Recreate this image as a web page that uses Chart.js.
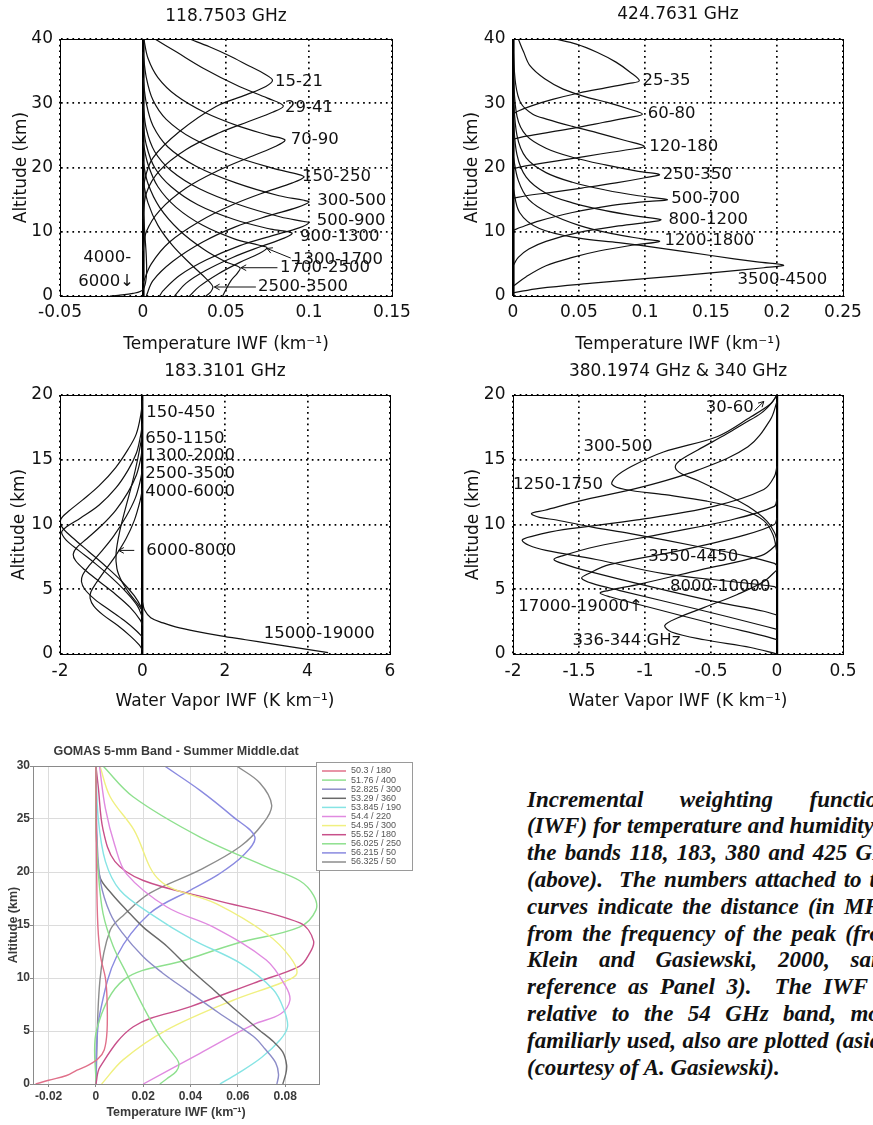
<!DOCTYPE html>
<html><head><meta charset="utf-8">
<script src="https://cdn.jsdelivr.net/npm/chart.js@4/dist/chart.umd.min.js"></script>
<style>
html,body{margin:0;padding:0;background:#fff;overflow:hidden;width:873px;height:1125px;position:relative;}
canvas{position:absolute;display:block;}
#c5{filter:blur(0.55px);}
#caption{position:absolute;left:527px;top:786.6px;width:372px;font:italic bold 23px "Liberation Serif","Times New Roman",serif;line-height:26.8px;color:#111;}
#caption div{white-space:nowrap;text-align:justify;text-align-last:justify;}
#caption div.short{width:341px;}
#caption div.last{text-align-last:left;}
</style></head><body>
<canvas id="c1" width="436" height="358" style="left:0;top:0"></canvas>
<canvas id="c2" width="437" height="358" style="left:436px;top:0"></canvas>
<canvas id="c3" width="436" height="360" style="left:0;top:358px"></canvas>
<canvas id="c4" width="437" height="360" style="left:436px;top:358px"></canvas>
<canvas id="c5" width="420" height="390" style="left:0;top:735px"></canvas>
<div id="caption">
<div>Incremental weighting functions</div>
<div>(IWF) for temperature and humidity in</div>
<div>the bands 118, 183, 380 and 425 GHz</div>
<div>(above).&nbsp; The numbers attached to the</div>
<div>curves indicate the distance (in MHz)</div>
<div>from the frequency of the peak (from</div>
<div>Klein and Gasiewski, 2000, same</div>
<div class="short">reference as Panel 3).&nbsp; The IWF</div>
<div>relative to the 54 GHz band, more</div>
<div>familiarly used, also are plotted (aside)</div>
<div class="last">(courtesy of A. Gasiewski).</div>
</div>
<script>
// ---------- Panel 1: 118.7503 GHz temperature IWF  [value, altitude km] ----------
const P1_XTICKS = [-0.05, 0, 0.05, 0.1, 0.15];
const P1_YTICKS = [0, 10, 20, 30, 40];
const P1_15_21 = [[0.028,40],[0.04,38.8],[0.052,37.4],[0.064,35.8],[0.073,34.6],[0.078,33.6],[0.074,32.6],[0.062,31.3],[0.044,29.5],[0.022,25.6],[0.006,21.5],[0.001,18],[0,14]];
const P1_29_41 = [[0.0072,40],[0.02,38],[0.036,35.5],[0.058,32.6],[0.075,30.8],[0.0845,29.6],[0.078,28.6],[0.064,27.2],[0.046,25.4],[0.026,22.8],[0.01,19.5],[0.002,16],[0,12]];
const P1_70_90 = [[0.0005,40],[0.003,37],[0.009,34],[0.02,31.2],[0.037,28.6],[0.058,26.4],[0.076,25],[0.0855,24.3],[0.08,23.3],[0.066,21.8],[0.046,19.6],[0.026,16.8],[0.01,13.3],[0.002,10],[0,7]];
const P1_150_250 = [[0,38],[0.002,34],[0.006,30.5],[0.014,27.5],[0.03,24.5],[0.053,21.9],[0.078,19.9],[0.094,18.9],[0.097,18.5],[0.09,17.6],[0.074,16.2],[0.054,14.2],[0.034,11.6],[0.016,8.4],[0.005,5],[0,2]];
const P1_300_500 = [[0,34],[0.002,30],[0.006,26.5],[0.015,23.2],[0.032,20.2],[0.056,17.6],[0.082,15.6],[0.097,14.9],[0.1,14.6],[0.093,13.8],[0.076,12.5],[0.056,10.8],[0.036,8.4],[0.018,5.4],[0.006,2.4],[0.002,0]];
const P1_500_900 = [[0,30],[0.002,26],[0.007,22.5],[0.017,19.5],[0.034,16.7],[0.058,14.2],[0.083,12.3],[0.097,11.6],[0.1,11.4],[0.094,10.6],[0.078,9.4],[0.058,7.8],[0.038,5.6],[0.022,3.2],[0.012,0.8],[0.01,0]];
const P1_900_1300 = [[0,27],[0.002,23.5],[0.007,20],[0.017,17],[0.033,14.2],[0.055,11.9],[0.077,10.4],[0.0897,9.8],[0.085,9],[0.071,7.7],[0.054,6],[0.038,4],[0.026,2],[0.019,0]];
const P1_1300_1700 = [[0,24],[0.003,20.5],[0.009,17],[0.02,13.8],[0.036,11],[0.055,8.9],[0.07,7.9],[0.0747,7.5],[0.07,6.6],[0.058,5.2],[0.045,3.4],[0.034,1.5],[0.028,0]];
const P1_1700_2500 = [[0,21],[0.003,17.5],[0.01,13.8],[0.022,10.2],[0.037,7.2],[0.05,5.3],[0.0584,4.4],[0.057,3.6],[0.053,2.4],[0.05,1],[0.048,0]];
const P1_2500_3500 = [[0,18],[0.003,14.5],[0.009,11],[0.018,7.8],[0.029,4.9],[0.038,2.7],[0.042,1.5],[0.041,0.7],[0.038,0]];
const P1_4000_6000 = [[0,14],[0.001,10],[0.002,6],[0.002,3],[0,1],[-0.006,0.4],[-0.015,0.1],[-0.02,0]];
const P1_LABEL_TEXT = ['15-21','29-41','70-90','150-250','300-500','500-900','900-1300','1300-1700','1700-2500','2500-3500','4000-','6000\u2193'];
const P1_LABEL_X = [0.0795,0.0855,0.089,0.0958,0.105,0.1046,0.0946,0.0904,0.0825,0.0693,-0.036,-0.039];
const P1_LABEL_Y = [33.4,29.3,24.3,18.5,14.9,11.7,9.2,5.6,4.4,1.45,5.9,2.2];
const P1_ARROWS = [[0.089,5.9,0.0747,7.4],[0.081,4.4,0.059,4.4],[0.068,1.4,0.043,1.4]];

// ---------- Panel 2: 424.7631 GHz temperature IWF ----------
const P2_XTICKS = [0, 0.05, 0.1, 0.15, 0.2, 0.25];
const P2_YTICKS = [0, 10, 20, 30, 40];
const P2_25_35 = [[0.032,40],[0.048,39.2],[0.064,37.9],[0.078,36.4],[0.089,34.8],[0.0957,33.5],[0.088,33.1],[0.07,32.4],[0.05,31.6],[0.03,30.6],[0.014,29.6],[0.004,28.8],[0,28.3]];
const P2_60_80 = [[0.004,40],[0.008,38],[0.013,35.8],[0.024,33.8],[0.038,32.2],[0.055,31],[0.072,30.1],[0.088,29.1],[0.098,28.3],[0.088,27.8],[0.068,27],[0.045,26.1],[0.025,25.4],[0.008,24.8],[0,24.4]];
const P2_120_180 = [[0,39],[0.002,33],[0.006,30],[0.015,28.3],[0.026,27.5],[0.045,26.4],[0.064,25.4],[0.085,24.2],[0.0995,23.3],[0.088,22.8],[0.066,22.1],[0.042,21.3],[0.02,20.6],[0.006,20.1],[0,19.8]];
const P2_250_350 = [[0,35],[0.003,28],[0.01,25],[0.025,23],[0.045,21.6],[0.07,20.4],[0.095,19.4],[0.111,18.9],[0.1,18.4],[0.078,17.6],[0.052,16.8],[0.028,16.1],[0.01,15.6],[0,15.2]];
const P2_500_700 = [[0,32],[0.003,25],[0.01,21.5],[0.025,19.2],[0.045,17.7],[0.07,16.5],[0.095,15.6],[0.117,15],[0.1,14.7],[0.075,14.1],[0.045,13],[0.02,11.7],[0.006,10.7],[0,10.2]];
const P2_800_1200 = [[0,28],[0.003,22],[0.01,18.5],[0.025,16],[0.045,14.5],[0.07,13.3],[0.095,12.4],[0.112,11.9],[0.11,11.7],[0.08,10.9],[0.05,9.9],[0.025,8.5],[0.012,7.3],[0.004,6],[0,4.7]];
const P2_1200_1800 = [[0,22],[0.004,18],[0.012,15],[0.028,12.8],[0.05,11],[0.075,9.7],[0.098,8.9],[0.111,8.5],[0.09,7.9],[0.065,7],[0.045,6],[0.025,4.7],[0.01,3],[0,1.5]];
const P2_3500_4500 = [[0,17],[0.005,13],[0.02,10.5],[0.05,9],[0.08,8.3],[0.11,7.5],[0.15,6.3],[0.185,5.3],[0.205,4.8],[0.19,4.4],[0.15,3.6],[0.1,2.7],[0.06,2],[0.02,1.2],[0,0.5]];
const P2_LABEL_TEXT = ['25-35','60-80','120-180','250-350','500-700','800-1200','1200-1800','3500-4500'];
const P2_LABEL_X = [0.0982,0.102,0.1033,0.1135,0.1198,0.1178,0.1147,0.170];
const P2_LABEL_Y = [33.5,28.3,23.3,18.9,15.1,11.9,8.6,2.5];

// ---------- Panel 3: 183.3101 GHz water vapour IWF ----------
const P3_XTICKS = [-2, 0, 2, 4, 6];
const P3_YTICKS = [0, 5, 10, 15, 20];
const P3_150_450 = [[0,19.6],[-0.04,18.5],[-0.15,17],[-0.35,15.8],[-0.65,14.4],[-1.05,13],[-1.45,11.9],[-1.8,11],[-1.98,10.4],[-1.95,9.8],[-1.7,9.0],[-1.3,7.9],[-0.9,6.8],[-0.5,5.6],[-0.2,4.5],[-0.03,3.6],[0,3.2]];
const P3_650_1150 = [[0,17.8],[-0.05,16.8],[-0.15,15.5],[-0.35,14.2],[-0.65,12.8],[-1.05,11.5],[-1.5,10.5],[-1.85,9.8],[-1.96,9.4],[-1.85,8.8],[-1.55,8.0],[-1.15,7.0],[-0.75,5.9],[-0.4,4.8],[-0.12,3.7],[0,2.8]];
const P3_1300_2000 = [[0,16],[-0.05,15],[-0.15,13.8],[-0.35,12.5],[-0.65,11.1],[-1.0,9.9],[-1.35,8.9],[-1.6,8.2],[-1.68,7.7],[-1.62,7.2],[-1.4,6.5],[-1.05,5.6],[-0.65,4.6],[-0.3,3.6],[-0.05,2.6],[0,2.2]];
const P3_2500_3500 = [[0,14.3],[-0.06,13.3],[-0.18,12],[-0.4,10.6],[-0.7,9.1],[-1.0,7.9],[-1.3,6.8],[-1.45,6.1],[-1.48,5.6],[-1.4,5.0],[-1.15,4.2],[-0.8,3.4],[-0.45,2.6],[-0.15,1.8],[0,1.3]];
const P3_4000_6000 = [[0,12.8],[-0.06,11.8],[-0.2,10.3],[-0.4,8.9],[-0.65,7.6],[-0.9,6.5],[-1.12,5.5],[-1.25,4.8],[-1.27,4.3],[-1.18,3.7],[-0.95,3.0],[-0.6,2.2],[-0.3,1.4],[-0.08,0.7],[0,0.3]];
const P3_6000_8000 = [[0,17],[-0.12,15],[-0.25,13.2],[-0.4,11.4],[-0.55,9.5],[-0.64,7.8],[-0.62,6.6],[-0.5,5.6],[-0.3,4.6],[-0.1,3.8],[0,3.3]];
const P3_15000_19000 = [[0,4],[0.05,3.4],[0.2,2.8],[0.5,2.4],[0.8,2.1],[1.3,1.75],[1.9,1.4],[2.5,1.1],[3.1,0.8],[3.8,0.45],[4.5,0.1]];
const P3_LABEL_TEXT = ['150-450','650-1150','1300-2000','2500-3500','4000-6000','6000-8000','15000-19000'];
const P3_LABEL_X = [0.09,0.065,0.065,0.065,0.065,0.09,2.94];
const P3_LABEL_Y = [18.6,16.6,15.3,13.9,12.5,8.0,1.6];
const P3_ARROWS = [[-0.2,8.0,-0.58,8.0]];

// ---------- Panel 4: 380.1974 GHz & 340 GHz water vapour IWF ----------
const P4_XTICKS = [-2, -1.5, -1, -0.5, 0, 0.5];
const P4_YTICKS = [0, 5, 10, 15, 20];
const P4_A = [[0,20],[-0.04,19.4],[-0.12,18.6],[-0.25,17.8],[-0.38,17.0],[-0.6,15.75],[-0.74,14.9],[-0.77,14.4],[-0.72,13.9],[-0.6,13.4],[-0.4,12.4],[-0.22,11.4],[-0.08,10.3],[-0.02,9.4],[0,8.8]];
const P4_B = [[0,20],[-0.05,19.3],[-0.2,18.3],[-0.45,16.8],[-0.86,15.6],[-1.1,14.5],[-1.22,13.7],[-1.25,13.1],[-1.15,12.7],[-0.85,12.3],[-0.53,11.8],[-0.25,11.1],[-0.1,10.3],[-0.03,9.2],[0,7.8]];
const P4_C = [[0,19.5],[-0.05,18.1],[-0.22,16],[-0.6,14.2],[-1.02,12.9],[-1.5,11.8],[-1.76,11.1],[-1.86,10.85],[-1.8,10.55],[-1.67,10.35],[-1.4,9.8],[-1.11,9.3],[-0.6,8.3],[-0.25,7.6],[-0.02,7.0],[0,6.8]];
const P4_D = [[0,14.5],[-0.02,13.7],[-0.1,12.7],[-0.48,11.4],[-1.06,10.35],[-1.62,9.6],[-1.85,9.1],[-1.93,8.8],[-1.88,8.4],[-1.75,8.0],[-1.37,7.3],[-0.86,6.2],[-0.35,5.6],[-0.02,5.2],[0,5.0]];
const P4_E = [[0,12],[-0.02,11.4],[-0.35,10.35],[-0.86,9.3],[-1.37,8.3],[-1.62,7.6],[-1.69,7.3],[-1.6,6.9],[-1.47,6.5],[-0.96,5.2],[-0.45,4.0],[-0.1,3.3],[0,3.0]];
const P4_F = [[0,10.5],[-0.02,10],[-0.24,9.2],[-0.73,8.0],[-1.27,6.9],[-1.43,6.2],[-1.48,5.85],[-1.4,5.45],[-1.19,4.9],[-0.58,3.4],[-0.15,2.3],[0,1.9]];
const P4_G = [[0,8.8],[-0.02,8.3],[-0.12,7.6],[-0.58,6.5],[-1.04,5.4],[-1.28,4.9],[-1.34,4.7],[-1.26,4.4],[-1.04,3.8],[-0.43,2.2],[-0.1,1.4],[0,1.1]];
const P4_H = [[0,6.5],[-0.1,5.6],[-0.3,4.6],[-0.55,3.6],[-0.75,2.8],[-0.85,2.2],[-0.8,1.7],[-0.55,1.1],[-0.2,0.5],[0,0]];
const P4_LABEL_TEXT = ['30-60','300-500','1250-1750','3550-4450','8000-10000','17000-19000\u2191','336-344 GHz'];
const P4_LABEL_X = [-0.54,-1.466,-2.0,-0.975,-0.81,-1.96,-1.55];
const P4_LABEL_Y = [19.05,16.0,13.05,7.5,5.2,3.65,1.0];
const P4_ARROWS = [[-0.17,18.8,-0.1,19.5]];

// ---------- Panel 5: GOMAS 5-mm band temperature IWF ----------
const P5_XTICKS = [-0.02, 0, 0.02, 0.04, 0.06, 0.08];
const P5_YTICKS = [0, 5, 10, 15, 20, 25, 30];
const P5_NAMES = ['50.3 / 180','51.76 / 400','52.825 / 300','53.29 / 360','53.845 / 190','54.4 / 220','54.95 / 300','55.52 / 180','56.025 / 250','56.215 / 50','56.325 / 50'];
const P5_COLORS = ['#e0708a','#8ee08e','#8c8cc8','#6a6a6a','#86e4e4','#e08ae0','#f0f080','#c8508a','#8ee08e','#8a8ae0','#8c8c8c'];
const P5_50_3 = [[0,30],[0.0003,20],[0.0008,15],[0.002,12],[0.004,10],[0.0047,8],[0.0047,5],[0.0035,3.2],[0.001,2.4],[-0.003,1.8],[-0.008,1.3],[-0.0124,0.8],[-0.02,0.35],[-0.0255,0]];
const P5_51_76 = [[0,30],[0,25],[0.001,20],[0.003,16.1],[0.0073,13],[0.013,10.4],[0.02,7.3],[0.027,4.5],[0.032,3],[0.035,2],[0.034,1.2],[0.03,0.5],[0.027,0]];
const P5_52_825 = [[0,30],[0.0005,23],[0.002,19],[0.006,16.1],[0.011,14.3],[0.02,12],[0.028,10.5],[0.038,8.9],[0.052,6.7],[0.0665,4.5],[0.0715,3.3],[0.076,2],[0.0772,0.9],[0.0765,0]];
const P5_53_29 = [[0,30],[0.0003,23],[0.0017,19.5],[0.0065,18],[0.013,16.4],[0.02,14.8],[0.03,13],[0.04,10.8],[0.0497,8.9],[0.059,7],[0.069,5.1],[0.075,4],[0.079,3],[0.0806,1.8],[0.0803,1],[0.079,0]];
const P5_53_845 = [[0,30],[0.001,25],[0.004,21],[0.0101,18.3],[0.0228,16.1],[0.041,13.6],[0.061,11.4],[0.075,8.9],[0.0795,7],[0.081,5.4],[0.078,4.2],[0.07,2.5],[0.06,1],[0.0524,0]];
const P5_54_4 = [[0.0015,30],[0.004,26],[0.008,22.5],[0.013,19.8],[0.03,16.7],[0.0497,14.8],[0.072,11.7],[0.08,9.3],[0.082,7.9],[0.078,6.6],[0.0665,5.6],[0.044,2.9],[0.02,0]];
const P5_54_95 = [[0.0017,30],[0.006,27.1],[0.016,24],[0.027,19.2],[0.051,17],[0.072,14.2],[0.082,12],[0.0849,10.4],[0.079,9.6],[0.058,7.9],[0.03,5.1],[0.0116,2.3],[0.0024,0]];
const P5_55_52 = [[0,30],[0.001,28],[0.003,24],[0.008,21],[0.02,19.2],[0.0497,17.4],[0.0862,15.2],[0.092,13.5],[0.09,12.2],[0.086,11.1],[0.0665,9.5],[0.04,7.3],[0.0158,5.4],[0.0017,1.6],[0,0]];
const P5_56_025 = [[0.003,30],[0.0157,27.1],[0.044,23.3],[0.072,20.5],[0.086,19.2],[0.092,17.8],[0.093,16.4],[0.086,14.8],[0.06,13.3],[0.038,11.7],[0.0116,9.8],[0.0003,5.1],[0,0]];
const P5_56_215 = [[0.029,30],[0.044,27.7],[0.058,25.2],[0.0672,23.3],[0.062,21.5],[0.052,19.8],[0.04,18.3],[0.0228,16.1],[0.0087,12],[0.0017,6.7],[0.0003,3.5],[0,0]];
const P5_56_325 = [[0.0595,30],[0.0693,28.4],[0.0743,26.3],[0.0707,24.6],[0.061,22.4],[0.044,20.2],[0.0228,18],[0.012,16],[0.006,14.5],[0.0017,9.8],[0,0]];

// ---------------- drawing helpers ----------------
const DV = '"DejaVu Sans", Verdana, sans-serif';
const AR = '"Liberation Sans", Arial, sans-serif';

const boxPlugin = {
  id: 'box',
  afterDatasetsDraw(chart, args, opts) {
    const a = chart.chartArea, c = chart.ctx;
    c.save();
    c.strokeStyle = opts.color || '#000';
    c.lineWidth = 1;
    c.strokeRect(Math.round(a.left) + 0.5, Math.round(a.top) + 0.5, Math.round(a.right - a.left), Math.round(a.bottom - a.top));
    c.restore();
  }
};

function labelPlugin(texts, xs, ys, arrows, font) {
  return {
    id: 'curveLabels',
    afterDatasetsDraw(chart) {
      const sx = chart.scales.x, sy = chart.scales.y, c = chart.ctx;
      c.save();
      c.font = font; c.fillStyle = '#111'; c.textAlign = 'left'; c.textBaseline = 'middle';
      texts.forEach((t, i) => c.fillText(t, sx.getPixelForValue(xs[i]), sy.getPixelForValue(ys[i])));
      c.strokeStyle = '#111'; c.lineWidth = 1;
      (arrows || []).forEach(a => {
        const x1 = sx.getPixelForValue(a[0]), y1 = sy.getPixelForValue(a[1]);
        const x2 = sx.getPixelForValue(a[2]), y2 = sy.getPixelForValue(a[3]);
        const ang = Math.atan2(y2 - y1, x2 - x1);
        c.beginPath(); c.moveTo(x1, y1); c.lineTo(x2, y2);
        c.moveTo(x2 - 6 * Math.cos(ang - 0.5), y2 - 6 * Math.sin(ang - 0.5)); c.lineTo(x2, y2);
        c.lineTo(x2 - 6 * Math.cos(ang + 0.5), y2 - 6 * Math.sin(ang + 0.5));
        c.stroke();
      });
      c.restore();
    }
  };
}

function legendPlugin(names, colors) {
  return {
    id: 'sideLegend',
    afterDraw(chart) {
      const c = chart.ctx;
      c.save();
      c.fillStyle = '#fff'; c.fillRect(316, 27, 96, 108);
      c.strokeStyle = '#9a9a9a'; c.lineWidth = 1; c.strokeRect(316.5, 27.5, 96, 108);
      c.font = '9px ' + AR; c.textBaseline = 'middle'; c.textAlign = 'left';
      names.forEach((n, i) => {
        const y = 36 + i * 9.1;
        c.strokeStyle = colors[i]; c.lineWidth = 1.5;
        c.beginPath(); c.moveTo(322, y); c.lineTo(346, y); c.stroke();
        c.fillStyle = '#555'; c.fillText(n, 351, y);
      });
      c.restore();
    }
  };
}

function build(id, s) {
  const datasets = s.curves.map((pts, i) => ({
    data: pts.map(p => ({x: p[0], y: p[1]})),
    showLine: true,
    borderColor: s.colors ? s.colors[i] : '#111',
    borderWidth: s.lineWidth,
    pointRadius: 0,
    tension: s.tension,
    fill: false
  }));
  const zeroX = v => v === 0 && s.zeroWidth;
  const tickFont = {family: s.fontFamily, size: s.tickSize, weight: s.weight, lineHeight: 1.2};
  const titleFont = {family: s.fontFamily, size: s.titleSize, weight: s.weight, lineHeight: 1.2};
  return new Chart(document.getElementById(id), {
    type: 'scatter',
    data: {datasets},
    options: {
      responsive: false, animation: false, events: [],
      layout: {padding: {left: 0, top: 0, right: s.padR, bottom: 0}},
      plugins: {
        legend: {display: false}, tooltip: {enabled: false},
        title: {display: true, text: s.title, fullSize: false, color: s.titleColor || '#111',
                font: titleFont, padding: {top: s.tPadTop, bottom: s.tPadBottom}},
        box: {color: s.boxColor}
      },
      scales: {
        x: {
          type: 'linear', position: 'bottom', min: s.xMin, max: s.xMax,
          afterBuildTicks: sc => { sc.ticks = s.xTicks.map(v => ({value: v})); },
          afterFit: sc => { sc.height = s.xH; },
          ticks: {autoSkip: false, maxRotation: 0, minRotation: 0, padding: s.xTickPad, color: s.textColor, font: tickFont, callback: v => String(v)},
          grid: {
            color: s.gridColor,
            lineWidth: ctx => (ctx.tick && zeroX(ctx.tick.value)) ? s.zeroWidth : s.gridWidth,
            drawTicks: !!s.tickLen, tickLength: s.tickLen || 0, tickColor: s.tickColor || s.gridColor
          },
          border: {display: true, color: s.boxColor, width: 1,
                   dash: ctx => (ctx.tick && zeroX(ctx.tick.value)) ? [] : s.dash},
          title: {display: true, text: s.xTitle, color: s.textColor, font: titleFont, padding: {top: 0, bottom: s.xTitlePad}}
        },
        y: {
          type: 'linear', position: 'left', min: s.yMin, max: s.yMax,
          afterBuildTicks: sc => { sc.ticks = s.yTicks.map(v => ({value: v})); },
          afterFit: sc => { sc.width = s.yW; },
          ticks: {autoSkip: false, padding: s.yTickPad, color: s.textColor, font: tickFont, callback: v => String(v)},
          grid: {color: s.gridColor, lineWidth: s.gridWidth, drawTicks: !!s.tickLen, tickLength: s.tickLen || 0, tickColor: s.tickColor || s.gridColor},
          border: {display: true, color: s.boxColor, width: 1, dash: s.dash},
          title: {display: true, text: 'Altitude (km)', color: s.textColor, font: titleFont, padding: {top: s.yTitlePad, bottom: 0}}
        }
      }
    },
    plugins: [boxPlugin].concat(s.extraPlugins || [])
  });
}

const MATLAB = {fontFamily: DV, tickSize: 17, titleSize: 17, weight: 'normal', textColor: '#111',
  gridColor: '#000', gridWidth: 1.7, boxColor: '#000', dash: [1.7, 4], lineWidth: 1.2, tension: 0.35};

build('c1', Object.assign({}, MATLAB, {
  curves: [P1_15_21, P1_29_41, P1_70_90, P1_150_250, P1_300_500, P1_500_900, P1_900_1300, P1_1300_1700, P1_1700_2500, P1_2500_3500, P1_4000_6000],
  xMin: -0.05, xMax: 0.15, yMin: 0, yMax: 40, xTicks: P1_XTICKS, yTicks: P1_YTICKS,
  title: '118.7503 GHz', xTitle: 'Temperature IWF (km\u207B\u00B9)',
  yW: 60, xH: 62, padR: 44, tPadTop: 6.6, tPadBottom: 12, xTickPad: 6.3, yTickPad: 7, xTitlePad: 2.8, yTitlePad: 11.8,
  zeroWidth: 2.6,
  extraPlugins: [labelPlugin(P1_LABEL_TEXT, P1_LABEL_X, P1_LABEL_Y, P1_ARROWS, '16.5px ' + DV)]
}));

build('c2', Object.assign({}, MATLAB, {
  curves: [P2_25_35, P2_60_80, P2_120_180, P2_250_350, P2_500_700, P2_800_1200, P2_1200_1800, P2_3500_4500],
  xMin: 0, xMax: 0.25, yMin: 0, yMax: 40, xTicks: P2_XTICKS, yTicks: P2_YTICKS,
  title: '424.7631 GHz', xTitle: 'Temperature IWF (km\u207B\u00B9)',
  yW: 77, xH: 62, padR: 30, tPadTop: 4.8, tPadBottom: 13.8, xTickPad: 6.3, yTickPad: 7.5, xTitlePad: 2.8, yTitlePad: 26.8,
  zeroWidth: 2.6,
  extraPlugins: [labelPlugin(P2_LABEL_TEXT, P2_LABEL_X, P2_LABEL_Y, [], '16.5px ' + DV)]
}));

build('c3', Object.assign({}, MATLAB, {
  curves: [P3_150_450, P3_650_1150, P3_1300_2000, P3_2500_3500, P3_4000_6000, P3_6000_8000, P3_15000_19000],
  xMin: -2, xMax: 6, yMin: 0, yMax: 20, xTicks: P3_XTICKS, yTicks: P3_YTICKS,
  title: '183.3101 GHz', xTitle: 'Water Vapor IWF (K km\u207B\u00B9)',
  yW: 60, xH: 64, padR: 46, tPadTop: 3.5, tPadBottom: 13.1, xTickPad: 7.8, yTickPad: 7, xTitlePad: 5.8, yTitlePad: 9.8,
  zeroWidth: 2.4,
  extraPlugins: [labelPlugin(P3_LABEL_TEXT, P3_LABEL_X, P3_LABEL_Y, P3_ARROWS, '16.5px ' + DV)]
}));

build('c4', Object.assign({}, MATLAB, {
  curves: [P4_A, P4_B, P4_C, P4_D, P4_E, P4_F, P4_G, P4_H],
  xMin: -2, xMax: 0.5, yMin: 0, yMax: 20, xTicks: P4_XTICKS, yTicks: P4_YTICKS,
  title: '380.1974 GHz & 340 GHz', xTitle: 'Water Vapor IWF (K km\u207B\u00B9)',
  yW: 77, xH: 64, padR: 30, tPadTop: 3.8, tPadBottom: 12.8, xTickPad: 7.8, yTickPad: 7.5, xTitlePad: 5.8, yTitlePad: 27.3,
  zeroWidth: 2.2,
  extraPlugins: [labelPlugin(P4_LABEL_TEXT, P4_LABEL_X, P4_LABEL_Y, P4_ARROWS, '16.5px ' + DV)]
}));

build('c5', {
  fontFamily: AR, tickSize: 12, titleSize: 12.5, weight: 'bold', textColor: '#3a3a3a', titleColor: '#3a3a3a',
  gridColor: '#dcdcdc', gridWidth: 1, boxColor: '#8a8a8a', dash: [], lineWidth: 1.4, tension: 0.35, tickLen: 3, tickColor: '#8a8a8a',
  curves: [P5_50_3, P5_51_76, P5_52_825, P5_53_29, P5_53_845, P5_54_4, P5_54_95, P5_55_52, P5_56_025, P5_56_215, P5_56_325],
  colors: P5_COLORS,
  xMin: -0.0266, xMax: 0.0943, yMin: 0, yMax: 30, xTicks: P5_XTICKS, yTicks: P5_YTICKS,
  title: 'GOMAS 5-mm Band - Summer Middle.dat', xTitle: 'Temperature IWF (km\u207B\u00B9)',
  yW: 33, xH: 41, padR: 101, tPadTop: 9.5, tPadBottom: 6.5, xTickPad: 2.8, yTickPad: 0, xTitlePad: 4.8, yTitlePad: 5.8,
  zeroWidth: 0,
  extraPlugins: [legendPlugin(P5_NAMES, P5_COLORS)]
});
</script>
</body></html>
